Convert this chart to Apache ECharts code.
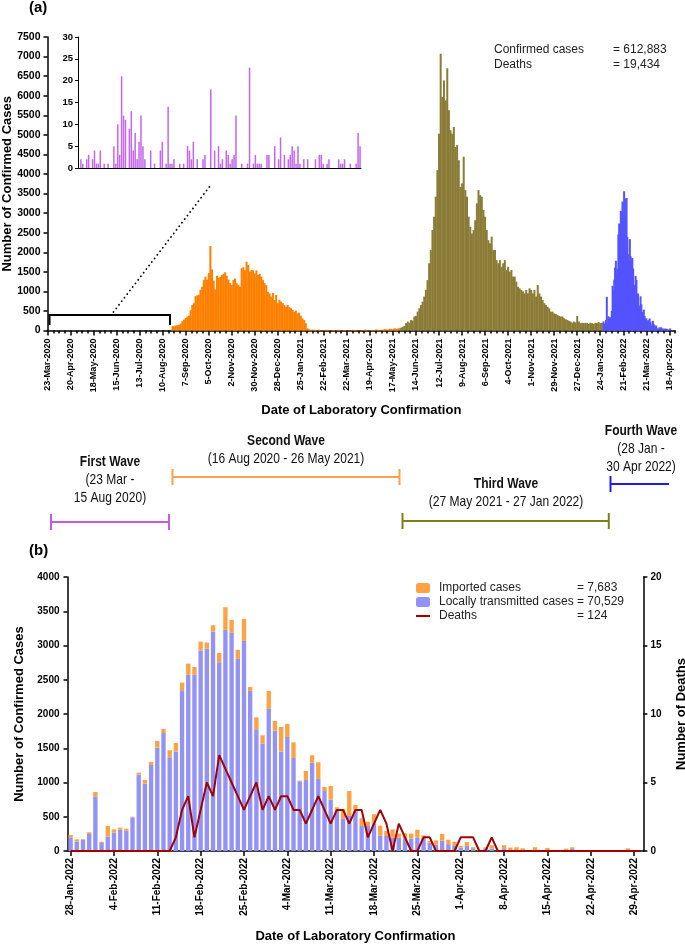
<!DOCTYPE html>
<html><head><meta charset="utf-8">
<script src="https://cdn.jsdelivr.net/npm/echarts@6/dist/echarts.min.js"></script>
<style>html,body{margin:0;padding:0;background:#fff}#c{width:685px;height:946px}</style>
</head><body><div id="c"></div>
<script>
const FONT = "'Liberation Sans', Arial, Helvetica, sans-serif";
const MONTHS = ['Jan','Feb','Mar','Apr','May','Jun','Jul','Aug','Sep','Oct','Nov','Dec'];

// ---------- Panel (a): day 0 = 23-Mar-2020 ----------
const EPOCH_A = Date.UTC(2020, 2, 23);
// First wave (23 Mar - 15 Aug 2020), daily cases, shown in inset
const firstWaveDaily = [
  0,2,1,0,2,3,0,2,4,1, 1,4,0,1,0,1,0,0,5,1, 10,3,21,12,11,0,9,13,4,8,
  2,6,12,5,2,0,0,4,0,1, 0,0,4,6,0,1,14,1,1,2, 0,0,1,0,1,0,5,4,2,6,
  0,2,0,0,2,3,0,0,18,0, 4,0,5,1,2,0,4,3,1,2, 3,12,0,0,1,0,0,1,23,0,
  1,3,1,1,1,0,0,3,3,0, 0,5,0,2,7,0,3,0,2,3, 5,4,1,5,1,0,2,0,2,0,
  0,0,2,0,3,3,1,0,1,2, 0,0,0,0,2,1,1,2,0,0, 1,0,0,1,8,5
];
// Second wave, one value per 2 days from day 152
const secondWaveStart = 152;
const secondWave = [
  120,110,130,140,150,180,240,280,320,360, 380,520,650,700,880,900,920,1040,1120,1290,
  1380,1300,1470,2160,1560,1280,1050,1400,1350,1370, 1420,1450,1490,1400,1300,1210,1160,1290,1330,1210,
  1170,1120,1590,1620,1540,1760,1680,1510,1550,1540, 1460,1540,1420,1450,1380,1290,1210,1160,990,950,
  870,960,780,910,700,790,740,700,650,610, 660,600,570,530,480,510,440,460,380,310,
  270,190,60,35,20
];
// Low level between second and third waves, one value per 2 days from day 322
const interWaveStart = 322;
const interWave = [
  25,20,15,10,25,10,5,15,10,20, 10,5,10,15,5,10,20,10,5,10,
  15,5,10,5,10,20,15,5,10,5, 10,15,25,10,5,10,15,10,20,30,
  15,10,25,20,40,30,25,50,40,30, 60,45,50,70
];
// Third wave, one value per 2 days from day 430 (27 May 2021)
const thirdWaveStart = 430;
const thirdWave = [
  75,100,120,190,230,200,270,255,360,375, 485,570,655,740,870,1040,1290,1720,2060,2570,
  2910,3420,4100,5030,7075,5970,6390,5880,6700,5630, 5120,5030,5200,4690,4740,4350,3670,3760,4440,3590,
  3420,2910,2650,2480,2570,2820,3250,3590,3460,3420, 3080,2910,2570,2310,2230,2400,2060,2060,1800,1720,
  1800,1630,1720,1800,1550,1630,1505,1550,1380,1380, 1250,1120,1080,1040,1000,950,1040,950,1080,1040,
  950,1040,870,1165,950,870,780,700,655,610, 570,485,485,440,425,400,375,360,360,315,
  290,270,245,230,200,230,210,375,230,190, 200,190,200,190,170,200,190,170,200,190,
  220,190,200
];
const fourthWaveStart = 676; // 28 Jan 2022, daily = panel (b) totals
const summaryA = [['Confirmed cases', '= 612,883'], ['Deaths', '= 19,434']];

// ---------- Panel (b): 28 Jan - 30 Apr 2022 ----------
const startB = Date.UTC(2022, 0, 28);
const localCases = [
  200,136,170,248,798,117,209,268,310,297, 492,1115,983,1256,1509,1723,1368,1451,2347,2571,
  2571,2926,2955,3204,2756,3228,3184,2804,3067,2337, 1777,1568,2074,1758,1451,1665,1358,1018,1037,1290,
  1052,876,750,599,477,511,589,365,365,404, 229,219,195,195,175,180,200,195,120,90,
  150,100,85,50,75,30,0,40,35,0, 40,10,10,5,0,5,0,5,0,0,
  5,30,0,0,0,0,0,0,0,0, 15,0,0
];
const importedCases = [
  34,34,5,25,64,19,156,48,30,29, 9,29,54,44,98,59,102,126,112,165,
  116,131,88,92,136,331,190,132,322,58, 175,121,263,141,360,190,229,9,131,107,
  243,59,199,39,132,365,83,112,63,132, 141,73,120,60,85,75,110,35,25,65,
  100,65,50,25,55,25,10,15,50,5, 45,40,45,35,0,50,5,40,0,0,
  30,25,0,0,0,0,0,0,0,0, 25,0,0
];
const deaths = [
  0,0,0,0,0,0,0,0,0,0, 0,0,0,0,0,0,0,1,3,4,
  1,3,5,4,7,6,5,4,3,4, 5,3,4,3,4,4,3,3,2,3,
  4,3,2,3,3,2,3,3,1,2, 3,2,0,2,1,0,0,1,1,0,
  0,0,0,1,1,1,0,0,1,0, 0,0,0,0,0,0,0,0,0,0,
  0,0,0,0,0,0,0,0,0,0, 0,0,0
];
const legendTotals = {'Imported cases': '7,683', 'Locally transmitted cases': '70,529', 'Deaths': '124'};

function fmt(ms) { const d = new Date(ms); return d.getUTCDate() + '-' + MONTHS[d.getUTCMonth()] + '-' + d.getUTCFullYear(); }
const dayLabelA = d => fmt(EPOCH_A + d * 864e5);
const datesB = localCases.map((_, i) => fmt(startB + i * 864e5));
const datesInset = firstWaveDaily.map((_, i) => dayLabelA(i));
const seq = (start, step, arr) => arr.map((v, i) => [start + i * step, v]);
const fourthWave = localCases.map((v, i) => [fourthWaveStart + i, v + importedCases[i]]);

const axisLineK = {show: true, lineStyle: {color: '#000', width: 1.5}};
const tickK = (len) => ({show: true, length: len, lineStyle: {color: '#000', width: 1.5}});
const lblK = (size) => ({color: '#000', fontFamily: FONT, fontWeight: 'bold', fontSize: size, formatter: v => String(v)});
const nameK = {color: '#000', fontFamily: FONT, fontWeight: 'bold', fontSize: 13};

const chart = echarts.init(document.getElementById('c'), null, {renderer: 'canvas'});

const majorTicks = []; for (let d = 0; d <= 756; d += 28) majorTicks.push(d);

const option = {
  animation: false,
  backgroundColor: '#fff',
  grid: [
    {left: 47.5, top: 37, width: 627.6, height: 293.6, outerBoundsMode: 'none', containLabel: false},
    {left: 78, top: 37, width: 283, height: 131, outerBoundsMode: 'none', containLabel: false},
    {left: 67.5, top: 577, width: 575.9, height: 274, outerBoundsMode: 'none', containLabel: false}
  ],
  xAxis: [
    {type: 'value', gridIndex: 0, min: 0, max: 763, interval: 28, position: 'bottom',
     axisLine: axisLineK, axisTick: Object.assign(tickK(5), {customValues: majorTicks}),
     splitLine: {show: false},
     axisLabel: Object.assign(lblK(9), {rotate: 90, margin: 8, customValues: majorTicks,
       formatter: v => (v % 28 === 0 && v <= 756) ? dayLabelA(v) : ''}),
     name: 'Date of Laboratory Confirmation', nameLocation: 'middle', nameGap: 73, nameTextStyle: nameK},
    {type: 'value', gridIndex: 0, min: 0, max: 763, interval: 7, position: 'bottom',
     axisLine: {show: false}, axisTick: tickK(3), axisLabel: {show: false}, splitLine: {show: false}},
    {type: 'category', gridIndex: 1, data: datesInset, boundaryGap: true,
     axisLine: {show: true, lineStyle: {color: '#000', width: 1}}, axisTick: {show: false}, axisLabel: {show: false}},
    {type: 'category', gridIndex: 2, data: datesB, boundaryGap: true,
     axisLine: axisLineK,
     axisTick: {show: true, length: 5, alignWithLabel: true, interval: (i) => i % 7 === 0, lineStyle: {color: '#000', width: 1.5}},
     axisLabel: {color: '#000', fontFamily: FONT, fontWeight: 'bold', fontSize: 10, rotate: 90, margin: 7, interval: (i) => i % 7 === 0},
     name: 'Date of Laboratory Confirmation', nameLocation: 'middle', nameGap: 79, nameTextStyle: nameK}
  ],
  yAxis: [
    {type: 'value', gridIndex: 0, min: 0, max: 7500, interval: 500,
     axisLine: axisLineK, axisTick: tickK(4), splitLine: {show: false},
     axisLabel: Object.assign(lblK(10.5), {margin: 7}),
     name: 'Number of Confirmed Cases', nameLocation: 'middle', nameGap: 33.5, nameMoveOverlap: false, nameTextStyle: nameK},
    {type: 'value', gridIndex: 1, min: 0, max: 30, interval: 5,
     axisLine: {show: true, lineStyle: {color: '#000', width: 1}}, axisTick: {show: true, length: 3, lineStyle: {color: '#000'}},
     splitLine: {show: false}, axisLabel: Object.assign(lblK(9.5), {margin: 5})},
    {type: 'value', gridIndex: 2, min: 0, max: 4000, interval: 500, position: 'left',
     axisLine: axisLineK, axisTick: tickK(4), splitLine: {show: false},
     axisLabel: Object.assign(lblK(10), {margin: 8}),
     name: 'Number of Confirmed Cases', nameLocation: 'middle', nameGap: 41, nameTextStyle: nameK},
    {type: 'value', gridIndex: 2, min: 0, max: 20, interval: 5, position: 'right',
     axisLine: axisLineK, axisTick: tickK(4), splitLine: {show: false},
     axisLabel: Object.assign(lblK(10), {margin: 7}),
     name: 'Number of Deaths', nameLocation: 'middle', nameGap: 32, nameTextStyle: nameK}
  ],
  legend: {
    orient: 'vertical', left: 411, top: 577, itemWidth: 14, itemHeight: 10, itemGap: 2,
    data: ['Imported cases', 'Locally transmitted cases',
           {name: 'Deaths', icon: 'path://M0,0M14,10M-1,3.8L15,3.8L15,6.2L-1,6.2Z'}],
    formatter: name => '{n|' + name + '}{v|= ' + legendTotals[name] + '}',
    textStyle: {fontFamily: FONT, fontSize: 12, color: '#222',
      rich: {n: {width: 138, padding: [0, 0, 0, 4], fontFamily: FONT, fontSize: 12, color: '#222', lineHeight: 15},
             v: {fontFamily: FONT, fontSize: 12, color: '#222', lineHeight: 15}}}
  },
  series: [
    {type: 'bar', name: 'Second wave', xAxisIndex: 0, yAxisIndex: 0, barWidth: 2, barGap: '-100%',
     itemStyle: {color: '#FF8000'}, data: seq(secondWaveStart, 2, secondWave)},
    {type: 'bar', name: 'Between waves', xAxisIndex: 0, yAxisIndex: 0, barWidth: 2, barGap: '-100%',
     itemStyle: {color: '#FF8000'}, data: seq(interWaveStart, 2, interWave)},
    {type: 'bar', name: 'Third wave', xAxisIndex: 0, yAxisIndex: 0, barWidth: 2, barGap: '-100%',
     itemStyle: {color: '#8A7C36'}, data: seq(thirdWaveStart, 2, thirdWave)},
    {type: 'bar', name: 'Fourth wave', xAxisIndex: 0, yAxisIndex: 0, barWidth: 2, barGap: '-100%',
     itemStyle: {color: '#5353FF'}, data: fourthWave},
    {type: 'bar', name: 'First wave', xAxisIndex: 2, yAxisIndex: 1, barCategoryGap: '22%',
     itemStyle: {color: '#C466EE'}, data: firstWaveDaily},
    {type: 'bar', name: 'Locally transmitted cases', xAxisIndex: 3, yAxisIndex: 2, stack: 'b', barCategoryGap: '30%',
     itemStyle: {color: '#9292F7'}, data: localCases},
    {type: 'bar', name: 'Imported cases', xAxisIndex: 3, yAxisIndex: 2, stack: 'b', barCategoryGap: '30%',
     itemStyle: {color: '#FFA244'}, data: importedCases},
    {type: 'line', name: 'Deaths', xAxisIndex: 3, yAxisIndex: 3, symbol: 'none', z: 5,
     itemStyle: {color: '#A00000'}, lineStyle: {color: '#A00000', width: 2}, data: deaths}
  ],
  graphic: {elements: []}
};
chart.setOption(option);

// ---------- annotations ----------
const g = [];
const txt = (t, x, y, opt, extra) => g.push(Object.assign({type: 'text', x, y, style: Object.assign({text: t, fill: '#000', fontFamily: FONT, fontSize: 12.5, align: 'center', verticalAlign: 'middle'}, opt || {})}, extra || {}));
const seg = (x1, y1, x2, y2, c, w, extra) => g.push({type: 'line', shape: {x1, y1, x2, y2}, style: Object.assign({stroke: c, lineWidth: w}, extra || {})});
txt('(a)', 29, 8, {fontWeight: 'bold', fontSize: 15, align: 'left'});
txt('(b)', 29, 551, {fontWeight: 'bold', fontSize: 15, align: 'left'});
summaryA.forEach((r, i) => {
  txt(r[0], 494, 50 + i * 14.5, {fontSize: 12, align: 'left', fill: '#222'});
  txt(r[1], 613, 50 + i * 14.5, {fontSize: 12, align: 'left', fill: '#222'});
});
// first-wave bracket in main panel + dotted connector to inset
g.push({type: 'polyline', shape: {points: [[49.5, 325], [49.5, 315], [170, 315], [170, 325]]}, style: {stroke: '#000', lineWidth: 2, fill: null}});
seg(113.5, 312, 212, 183.5, '#000', 1.8, {lineDash: [0.1, 4.4], lineCap: 'round'});
// wave periods (condensed text, like Arial Narrow)
const waves = [
  {t: 'First Wave', d: ['(23 Mar -', '15 Aug 2020)'], cx: 110, ty: 462, x1: 51, x2: 169, ly: 522, c: '#C45BE0', caps: 2},
  {t: 'Second Wave', d: ['(16 Aug 2020 - 26 May 2021)'], cx: 286, ty: 441, x1: 172.5, x2: 399.5, ly: 477, c: '#F7A24E', caps: 2},
  {t: 'Third Wave', d: ['(27 May 2021 - 27 Jan 2022)'], cx: 506, ty: 484, x1: 402.5, x2: 608.8, ly: 521, c: '#7E7E1C', caps: 2},
  {t: 'Fourth Wave', d: ['(28 Jan -', '30 Apr 2022)'], cx: 641, ty: 431, x1: 610.5, x2: 669, ly: 484, c: '#1C1CE8', caps: 1}
];
const narrow = {scaleX: 0.83};
waves.forEach(w => {
  txt(w.t, w.cx, w.ty, {fontWeight: 'bold', fill: '#111', fontSize: 14.5}, narrow);
  w.d.forEach((s, i) => txt(s, w.cx, w.ty + 18 * (i + 1), {fill: '#111', fontSize: 14.5}, narrow));
  seg(w.x1, w.ly, w.x2, w.ly, w.c, 2);
  seg(w.x1, w.ly - 8, w.x1, w.ly + 8, w.c, 2);
  if (w.caps === 2) seg(w.x2, w.ly - 8, w.x2, w.ly + 8, w.c, 2);
});
chart.setOption({graphic: {elements: g}});
</script></body></html>
